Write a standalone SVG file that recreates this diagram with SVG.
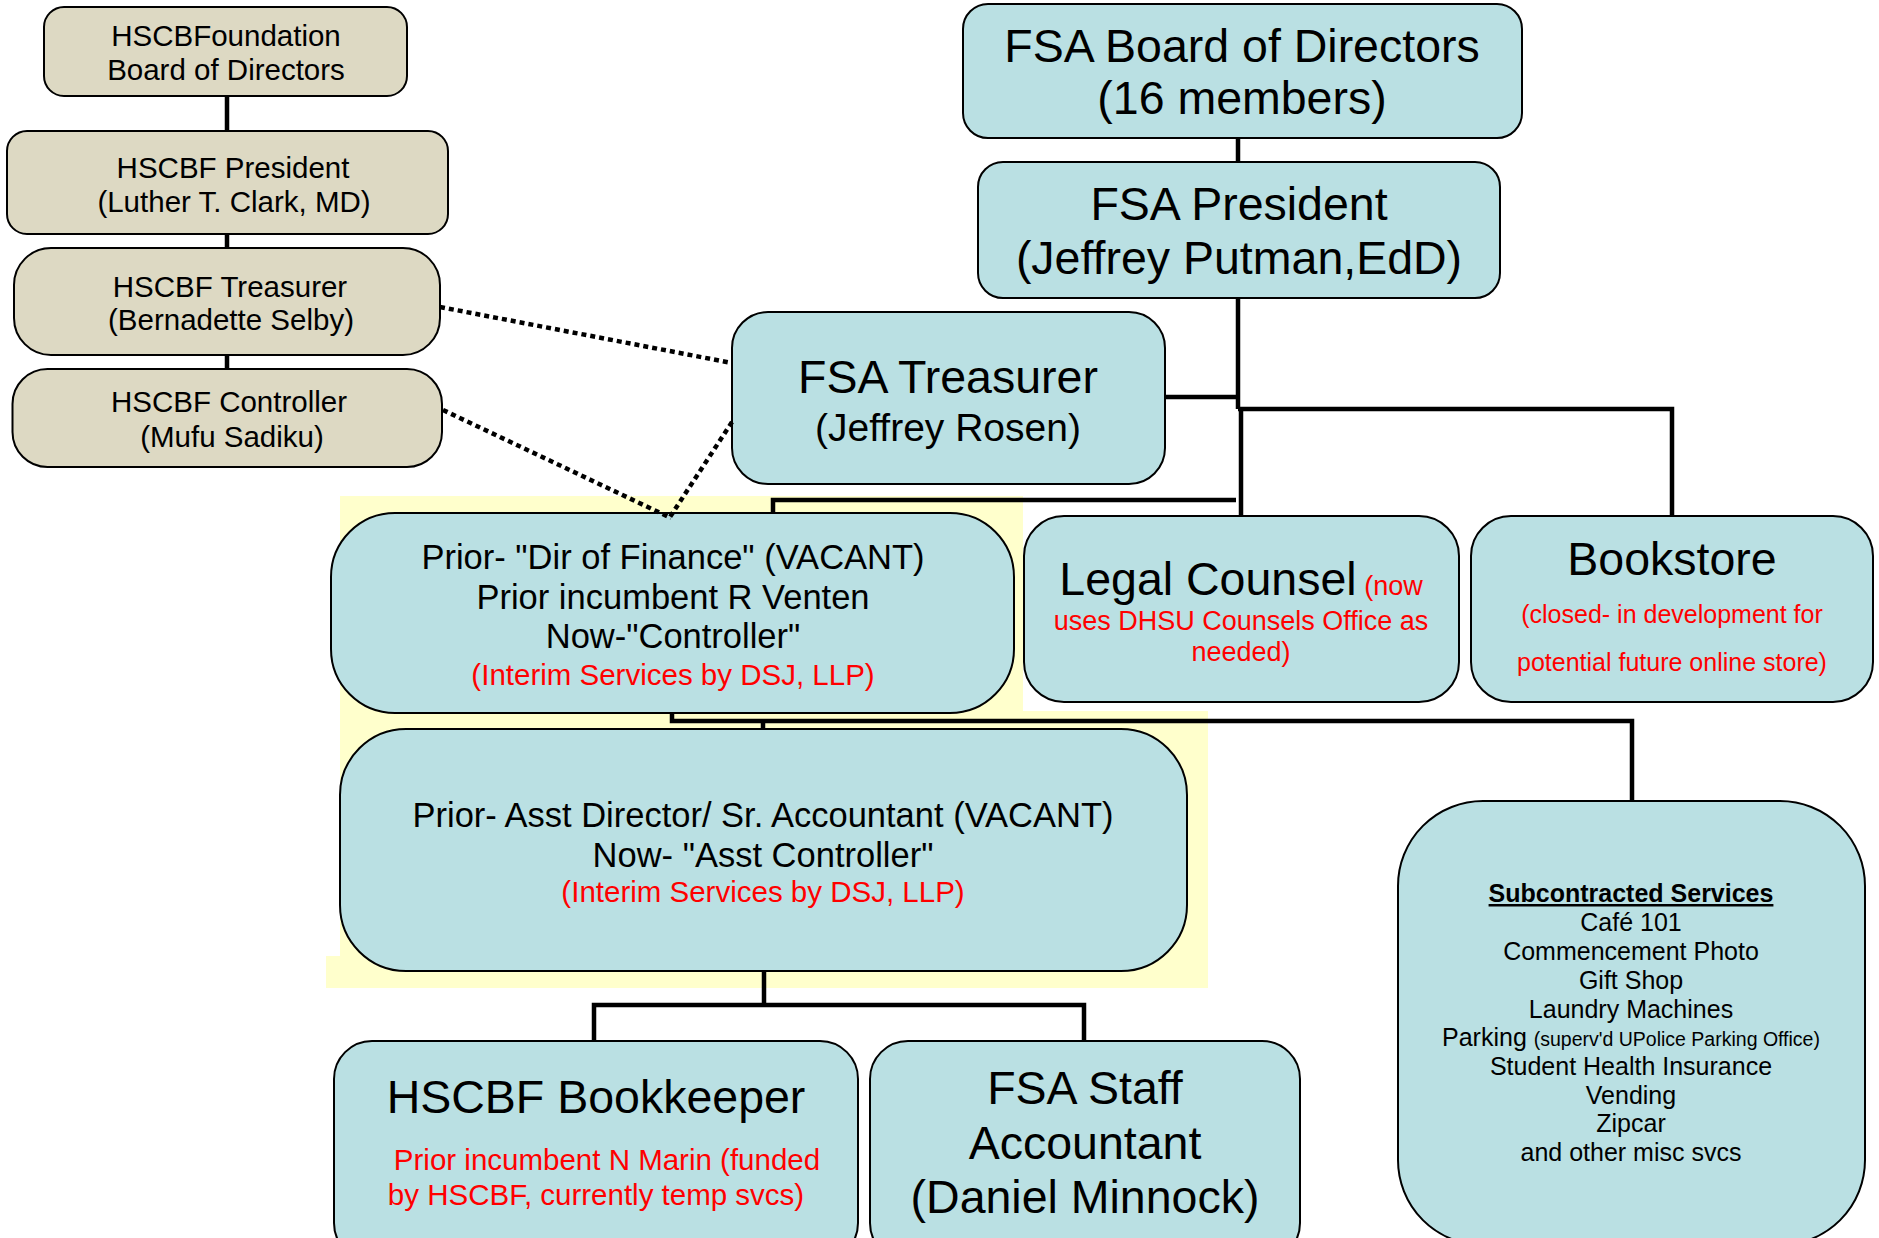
<svg xmlns="http://www.w3.org/2000/svg" width="1879" height="1238" viewBox="0 0 1879 1238">
<style>
text{font-family:"Liberation Sans",Arial,sans-serif;fill:#000;text-anchor:middle}
.tan{fill:#DDD9C3;stroke:#000;stroke-width:2}
.blue{fill:#BAE0E3;stroke:#000;stroke-width:2}
.red{fill:#FF0000}
.s{font-size:29.5px}
.m{font-size:34.5px}
.l{font-size:46.5px}
.sub{font-size:25px}
.ln{fill:none;stroke:#000;stroke-width:4.5}
.dot{fill:none;stroke:#000;stroke-width:4.5;stroke-dasharray:5 4}
</style>
<rect width="1879" height="1238" fill="#fff"/>
<path d="M340 496 H1023 V711 H1208 V988 H326 V956 H340 Z" fill="#FFFFCC"/>
<g id="connectors">
<path class="ln" d="M227 96 V131 M227 234 V248 M227 355 V369"/>
<path class="ln" d="M1238 138 V162"/>
<path class="ln" d="M1238 298 V409"/>
<path class="ln" d="M1165 397 H1238"/>
<path class="ln" d="M1238 409 H1672 V516"/>
<path class="ln" d="M1241 409 V516"/>
<path class="ln" d="M1236 500 H773 V513"/>
<path class="ln" d="M672 713 V721 H1632 V801"/>
<path class="ln" d="M763 721 V729"/>
<path class="ln" d="M764 971 V1005"/>
<path class="ln" d="M594 1041 V1005 H1084 V1041"/>
</g>
<g id="hscbf-board"><rect class="tan" x="44" y="7" width="363" height="89" rx="20"/><text class="s" x="226" y="46">HSCBFoundation</text><text class="s" x="226" y="80">Board of Directors</text></g>
<g id="hscbf-president"><rect class="tan" x="7" y="131" width="441" height="103" rx="20"/><text class="s" x="233" y="178">HSCBF President</text><text class="s" x="234" y="212">(Luther T. Clark, MD)</text></g>
<g id="hscbf-treasurer"><rect class="tan" x="14" y="248" width="426" height="107" rx="37"/><text class="s" x="230" y="297">HSCBF Treasurer</text><text class="s" x="231" y="330">(Bernadette Selby)</text></g>
<g id="hscbf-controller"><rect class="tan" x="12.5" y="369" width="429.5" height="98" rx="35"/><text class="s" x="229" y="412">HSCBF Controller</text><text class="s" x="232" y="447">(Mufu Sadiku)</text></g>
<g id="fsa-board"><rect class="blue" x="963" y="4" width="559" height="134" rx="25"/><text class="l" x="1242" y="62">FSA Board of Directors</text><text class="l" x="1242" y="114">(16 members)</text></g>
<g id="fsa-president"><rect class="blue" x="978" y="162" width="522" height="136" rx="25"/><text class="l" x="1239" y="220">FSA President</text><text class="l" x="1239" y="274">(Jeffrey Putman,EdD)</text></g>
<g id="fsa-treasurer"><rect class="blue" x="732" y="312" width="433" height="172" rx="36"/><text class="l" x="948" y="393">FSA Treasurer</text><text x="948" y="441" font-size="39">(Jeffrey Rosen)</text></g>
<g id="dir-finance"><rect class="blue" x="331" y="513" width="683" height="200" rx="64"/><text class="m" x="673" y="569">Prior- "Dir of Finance" (VACANT)</text><text class="m" x="673" y="609">Prior incumbent R Venten</text><text class="m" x="673" y="648">Now-"Controller"</text><text class="s red" x="673" y="685">(Interim Services by DSJ, LLP)</text></g>
<g id="asst-controller"><rect class="blue" x="340" y="729" width="847" height="242" rx="66"/><text class="m" x="763" y="827">Prior- Asst Director/ Sr. Accountant (VACANT)</text><text class="m" x="763" y="867">Now- "Asst Controller"</text><text class="s red" x="763" y="902">(Interim Services by DSJ, LLP)</text></g>
<g id="legal-counsel"><rect class="blue" x="1024" y="516" width="435" height="186" rx="40"/><text x="1241" y="595"><tspan font-size="46.5">Legal Counsel</tspan><tspan font-size="27" class="red"> (now</tspan></text><text x="1241" y="630" font-size="27" class="red">uses DHSU Counsels Office as</text><text x="1241" y="661" font-size="27" class="red">needed)</text></g>
<g id="bookstore"><rect class="blue" x="1471" y="516" width="402" height="186" rx="40"/><text class="l" x="1672" y="575">Bookstore</text><text x="1672" y="623" font-size="25" class="red">(closed- in development for</text><text x="1672" y="671" font-size="25" class="red">potential future online store)</text></g>
<g id="subcontracted"><rect class="blue" x="1398" y="801" width="467" height="444" rx="85"/>
<text class="sub" x="1631" y="902" font-weight="bold" text-decoration="underline">Subcontracted Services</text>
<text class="sub" x="1631" y="931">Café 101</text>
<text class="sub" x="1631" y="960">Commencement Photo</text>
<text class="sub" x="1631" y="989">Gift Shop</text>
<text class="sub" x="1631" y="1018">Laundry Machines</text>
<text x="1631" y="1046"><tspan font-size="25">Parking </tspan><tspan font-size="19.5">(superv'd UPolice Parking Office)</tspan></text>
<text class="sub" x="1631" y="1075">Student Health Insurance</text>
<text class="sub" x="1631" y="1104">Vending</text>
<text class="sub" x="1631" y="1132">Zipcar</text>
<text class="sub" x="1631" y="1161">and other misc svcs</text></g>
<g id="hscbf-bookkeeper"><rect class="blue" x="334" y="1041" width="524" height="220" rx="38"/><text class="l" x="596" y="1113">HSCBF Bookkeeper</text><text class="s red" x="607" y="1170">Prior incumbent N Marin (funded</text><text class="s red" x="596" y="1205">by HSCBF, currently temp svcs)</text></g>
<g id="fsa-staff"><rect class="blue" x="870" y="1041" width="430" height="220" rx="38"/><text class="l" x="1085" y="1104">FSA Staff</text><text class="l" x="1085" y="1159">Accountant</text><text class="l" x="1085" y="1213">(Daniel Minnock)</text></g>
<g id="dotted-connectors">
<path class="dot" d="M440 307 L732 363"/>
<path class="dot" d="M443 410 L671 518"/>
<path class="dot" d="M732 422 L670 517"/>
</g>
</svg>
